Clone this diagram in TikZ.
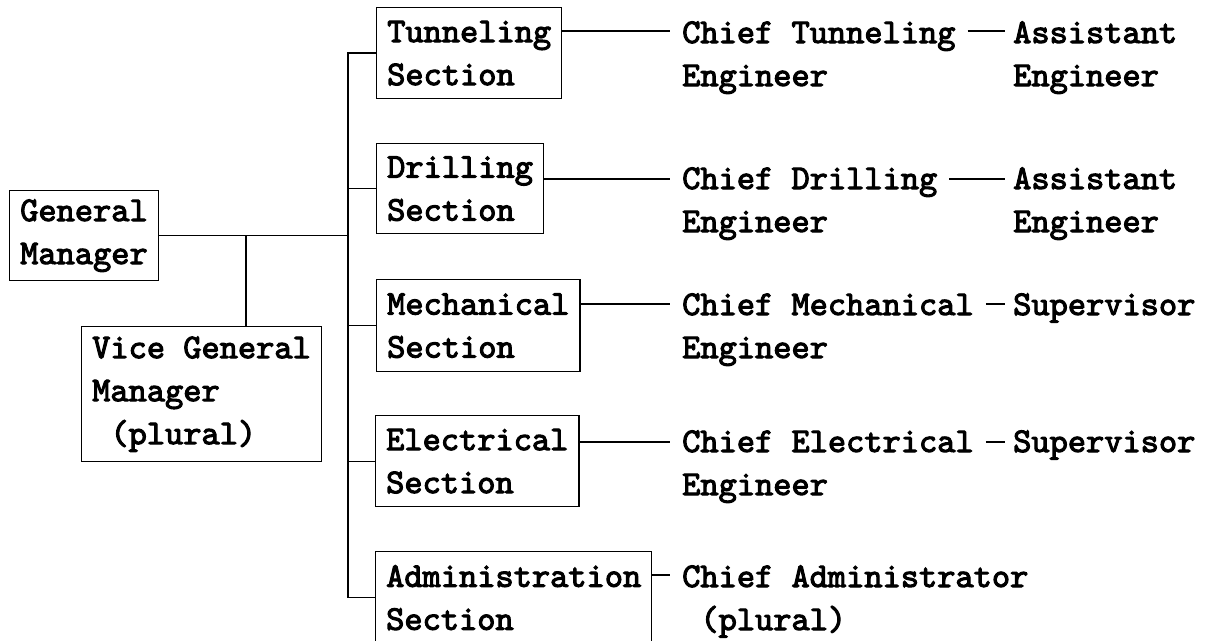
\documentclass[tikz,border=0pt]{standalone}
\usepackage{fontspec}
\newfontfamily\cour{lmmono10-regular.otf}[FakeBold=3]
\newcommand\twoline[2]{\vtop{\hbox{#1}\hbox{#2}}}
\begin{document}
\begin{tikzpicture}[x=1pt,y=-1pt,
  txtfont/.style={font=\cour\fontsize{34.7}{43}\selectfont},
  box/.style={txtfont, draw, align=left, line width=1.4pt, inner xsep=10.5pt, inner ysep=0pt, anchor=north west},
  chief/.style={txtfont, inner xsep=12pt, inner ysep=0pt, anchor=base west},
  assist/.style={txtfont, inner xsep=8pt, inner ysep=0pt, anchor=base west},
  thin/.style={line width=1.1pt},
  mid/.style={line width=1.5pt},
  thick/.style={line width=2.2pt}]
\useasboundingbox (0,0) rectangle (1212,640);
\clip (0,0) rectangle (1212,640);
% boxes
\node[box, minimum height=90pt] (GM) at (9,190) {General\\Manager};
\node[box, minimum height=135pt] (VGM) at (81,326) {Vice General\\Manager\\~(plural)};
\node[box, minimum height=91pt] (TS) at (376,7) {Tunneling\\Section};
\node[box, minimum height=90pt] (DS) at (376,143) {Drilling\\Section};
\node[box, minimum height=92pt] (MS) at (376,279) {Mechanical\\Section};
\node[box, minimum height=91pt] (ES) at (375,415) {Electrical\\Section};
\node[box, minimum height=92pt] (AS) at (375,551) {Administration\\Section};
% chiefs
\node[chief] (CT) at (670,43) {\twoline{Chief Tunneling}{Engineer}};
\node[chief] (CD) at (670,189) {\twoline{Chief Drilling}{Engineer}};
\node[chief] (CM) at (670,315) {\twoline{Chief Mechanical}{Engineer}};
\node[chief] (CE) at (670,452) {\twoline{Chief Electrical}{Engineer}};
\node[chief] (CA) at (670,587) {\twoline{Chief Administrator}{~(plural)}};
% assistants / supervisors
\node[assist] (AT) at (1005,43) {\twoline{Assistant}{Engineer}};
\node[assist] (AD) at (1005,189) {\twoline{Assistant}{Engineer}};
\node[assist] (SM) at (1005,315) {Supervisor};
\node[assist] (SE) at (1005,452) {Supervisor};
% connector levels
\coordinate (lT) at ([yshift=12pt]CT.base west);
\coordinate (lD) at ([yshift=10pt]CD.base west);
\coordinate (lM) at ([yshift=11pt]CM.base west);
\coordinate (lE) at ([yshift=10pt]CE.base west);
\coordinate (lA) at ([yshift=12pt]CA.base west);
\coordinate (bus) at (348,0);
\coordinate (jn) at (246,0);
% general manager links
\draw[mid] (GM.east) -- (GM.east -| bus);
\draw[thick] (GM.east -| jn) -- (jn |- VGM.north);
% bus
\draw[mid] (TS.west) -- (TS.west -| bus) -- (AS.west -| bus) -- (AS.west);
\draw[thin] (DS.west -| bus) -- (DS.west);
\draw[thin] (MS.west -| bus) -- (MS.west);
\draw[thin] (ES.west -| bus) -- (ES.west);
% sections to chiefs
\draw[thin] (TS.east |- lT) -- (lT);
\draw[thin] (DS.east |- lD) -- (lD);
\draw[thin] (MS.east |- lM) -- (lM);
\draw[thin] (ES.east |- lE) -- (lE);
\draw[thin] (AS.east |- lA) -- (lA);
% chiefs to assistants
\draw[thin] (CT.east |- lT) -- (AT.west |- lT);
\draw[thin] (CD.east |- lD) -- (AD.west |- lD);
\draw[thin] (CM.east |- lM) -- (SM.west |- lM);
\draw[thin] (CE.east |- lE) -- (SE.west |- lE);
\end{tikzpicture}
\end{document}
